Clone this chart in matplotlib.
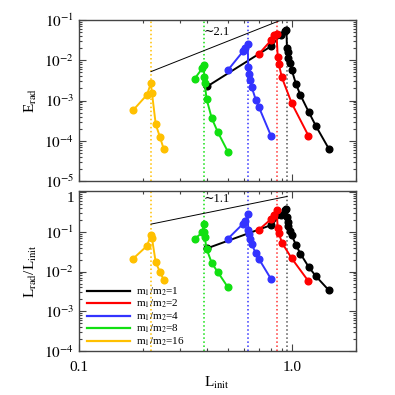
import matplotlib
matplotlib.use("Agg")
import matplotlib.pyplot as plt
from matplotlib.ticker import LogLocator, NullFormatter

plt.rcParams['font.family'] = ['Liberation Serif', 'DejaVu Serif']
plt.rcParams['mathtext.fontset'] = 'stix'

# ----------------------------
# Data
# ----------------------------

labels = ["m$_1$/m$_2$=1", "m$_1$/m$_2$=2", "m$_1$/m$_2$=4",
          "m$_1$/m$_2$=8", "m$_1$/m$_2$=16"]
colors = ["black", "#ff0000", "#3333ff", "#11e011", "#ffc000"]

# m1/m2 = 1
L_init_1 = [0.401, 0.799, 0.892, 0.928, 0.945, 0.950, 0.956, 0.966, 0.985,
            1.001, 1.048, 1.099, 1.201, 1.300, 1.497]
E_rad_1 = [2.25e-3, 0.0223, 0.0436, 0.0533, 0.0581, 0.0201, 0.0163, 0.0114,
           8.4e-3, 5.73e-3, 2.57e-3, 1.37e-3, 5.27e-4, 2.32e-4, 6.24e-5]
L_rad_1 = [0.0386, 0.147, 0.265, 0.347, 0.378, 0.232, 0.180, 0.137, 0.103,
           0.082, 0.0463, 0.0282, 0.0132, 7.64e-3, 3.37e-3]

# m1/m2 = 2
L_init_2 = [0.700, 0.799, 0.823, 0.849, 0.860, 0.870, 0.899, 1.001, 1.199]
E_rad_2 = [0.0143, 0.0313, 0.0417, 0.0442, 0.0118, 8.07e-3, 3.77e-3,
           8.5e-4, 1.33e-4]
L_rad_2 = [0.112, 0.207, 0.265, 0.347, 0.126, 0.0947, 0.0535, 0.0214, 5.74e-3]

# m1/m2 = 4
L_init_4 = [0.500, 0.592, 0.605, 0.621, 0.625, 0.631, 0.637, 0.649, 0.678,
            0.702, 0.799]
E_rad_4 = [5.62e-3, 0.0170, 0.0199, 0.0253, 6.92e-3, 4.55e-3, 3.23e-3,
           2.13e-3, 1.05e-3, 6.78e-4, 1.33e-4]
L_rad_4 = [0.0661, 0.161, 0.185, 0.276, 0.110, 0.0859, 0.0646, 0.0496,
           0.0285, 0.0206, 6.55e-3]

# m1/m2 = 8
L_init_8 = [0.350, 0.380, 0.386, 0.388, 0.390, 0.398, 0.421, 0.450, 0.502]
E_rad_8 = [3.52e-3, 6.31e-3, 7.62e-3, 3.77e-3, 2.67e-3, 1.09e-3, 3.61e-4,
           1.62e-4, 5.25e-5]
L_rad_8 = [0.0661, 0.0964, 0.154, 0.0975, 0.0741, 0.0373, 0.0164, 9.6e-3,
           4.0e-3]

# m1/m2 = 16
L_init_16 = [0.1795, 0.2088, 0.2176, 0.2204, 0.2295, 0.2404, 0.2502]
E_rad_16 = [5.71e-4, 1.39e-3, 2.67e-3, 1.53e-3, 2.56e-4, 1.22e-4, 6.24e-5]
L_rad_16 = [0.0210, 0.0443, 0.0811, 0.0684, 0.0170, 9.77e-3, 6.18e-3]

L_init_all = [L_init_1, L_init_2, L_init_4, L_init_8, L_init_16]
E_rad_all = [E_rad_1, E_rad_2, E_rad_4, E_rad_8, E_rad_16]
L_rad_all = [L_rad_1, L_rad_2, L_rad_4, L_rad_8, L_rad_16]

# vertical dotted markers (peak L_init of each mass ratio)
L_peak = [0.951, 0.850, 0.621, 0.387, 0.218]
vline_colors = ["#555555", "#ff3333", "#3333ff", "#11e011", "#ffc000"]

# power-law guide lines: (x0, x1), (y0, y1)
guide_E = ([0.218, 0.951], [5.24e-3, 0.115])
guide_L = ([0.218, 0.951], [0.156, 0.773])


# ----------------------------
# Plot
# ----------------------------

def style_axis(ax):
    ax.set_xscale("log")
    ax.set_yscale("log")
    ax.set_xlim(0.1, 2.0)
    ax.tick_params(which="both", direction="in", top=True, right=True,
                   labelsize=11, width=0.8, color="#444444")
    ax.tick_params(which="major", length=5)
    ax.tick_params(which="minor", length=2.5)
    ax.yaxis.set_minor_locator(LogLocator(base=10, subs=range(2, 10), numticks=20))
    ax.yaxis.set_minor_formatter(NullFormatter())
    ax.xaxis.set_minor_formatter(NullFormatter())
    for sp in ax.spines.values():
        sp.set_linewidth(1.0)
        sp.set_color("#444444")
    for xv, c in zip(L_peak, vline_colors):
        ax.axvline(xv, color=c, linestyle=":", linewidth=1.1, zorder=1)


fig = plt.figure(figsize=(3.95, 3.95), dpi=100)
ax1 = fig.add_axes([0.2, 0.542, 0.7005, 0.407])
ax2 = fig.add_axes([0.2, 0.111, 0.7005, 0.405])

for ax, ydata in ((ax1, E_rad_all), (ax2, L_rad_all)):
    style_axis(ax)
    for xs, ys, c, lab in zip(L_init_all, ydata, colors, labels):
        ax.plot(xs, ys, color=c, linewidth=1.4, marker="o", markersize=4.8,
                label=lab, zorder=3)

# top panel
ax1.plot(guide_E[0], guide_E[1], color="black", linewidth=0.7, zorder=2)
ax1.text(0.386, 0.05, "\u223c2.1", fontsize=9, va="center")
ax1.set_ylim(1e-5, 1e-1)
ax1.set_yticks([1e-5, 1e-4, 1e-3, 1e-2, 1e-1])
ax1.set_yticklabels([r"$10^{-5}$", r"$10^{-4}$", r"$10^{-3}$",
                     r"$10^{-2}$", r"$10^{-1}$"])
ax1.set_xticks([0.1, 1.0])
ax1.set_xticklabels([])
ax1.set_ylabel(r"E$_{\rm rad}$", fontsize=11)

# bottom panel
ax2.plot(guide_L[0], guide_L[1], color="black", linewidth=0.7, zorder=2)
ax2.text(0.386, 0.65, "\u223c1.1", fontsize=9, va="center")
ax2.set_ylim(1e-4, 1.05)
ax2.set_yticks([1e-4, 1e-3, 1e-2, 1e-1, 1])
ax2.set_yticklabels([r"$10^{-4}$", r"$10^{-3}$", r"$10^{-2}$",
                     r"$10^{-1}$", "1"])
ax2.get_yticklabels()[-1].set_va("top")
ax2.set_xticks([0.1, 1.0])
ax2.set_xticklabels(["0.1", "1.0"])
ax2.tick_params(axis="x", pad=7)
ax2.set_xlabel(r"L$_{\rm init}$", fontsize=11, labelpad=1)
ax2.set_ylabel(r"L$_{\rm rad}$/L$_{\rm init}$", fontsize=11)

leg = ax2.legend(loc="lower left", bbox_to_anchor=(0.03, 0.02), frameon=False,
                 fontsize=8, handlelength=3.8, handletextpad=0.6,
                 labelspacing=0.0, borderaxespad=0.0, borderpad=0.0)
for h in leg.legend_handles:
    h.set_marker("")
    h.set_linewidth(1.6)

fig.savefig("out.png", dpi=100)
